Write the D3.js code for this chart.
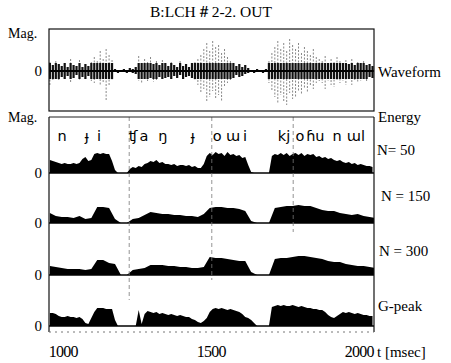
<!DOCTYPE html>
<html>
<head>
<meta charset="utf-8">
<script src="https://cdn.jsdelivr.net/npm/d3@7"></script>
<style>
  html, body { margin: 0; padding: 0; background: #fff; }
  svg { display: block; }
  .serif { font-family: "Liberation Serif", "DejaVu Serif", "Times New Roman", serif; }
  .ipa { font-family: "DejaVu Sans", "Noto Sans", sans-serif; }
</style>
</head>
<body>
<svg id="chart" width="451" height="363"></svg>
<script>
// time grid (msec)
const WAVE_START = 955, WAVE_STEP = 10;     // waveform, N=50, G-peak
const COARSE_START = 955, COARSE_STEP = 20; // N=150, N=300

// waveform peak extent above / below zero
const waveUp = [
  9, 6, 10, 7,
  5, 8, 4, 12, 6, 5, 11, 4, 7, 5,
  9, 14, 10, 20, 12, 22, 16, 11,
  2, 1, 1, 2, 1, 3, 2,
  4, 15,
  8, 12, 9, 14, 7, 10, 6, 11, 8,
  5, 9, 6, 4, 10, 5, 7, 4, 8, 9,
  12, 16, 22, 28, 20, 30, 24, 26, 18, 22, 14, 10,
  8, 5, 7, 4, 6, 3,
  1, 1, 2, 1, 1, 2,
  10, 18, 24, 30, 22, 28, 20, 32, 26, 22, 28, 18, 24, 20, 16, 22, 14, 12,
  10, 15, 8, 12, 9, 14, 10, 8, 11,
  7, 12, 6, 9, 8, 10, 6, 7, 5
];
const waveDown = [
  14, 9, 8, 10,
  6, 9, 5, 12, 7, 4, 10, 6, 8, 5,
  10, 12, 8, 15, 11, 30, 14, 9,
  1, 2, 1, 1, 2, 1, 2,
  3, 10,
  12, 8, 10, 7, 11, 9, 6, 8, 7,
  6, 8, 5, 7, 4, 8, 6, 5, 7, 9,
  14, 22, 18, 30, 26, 20, 28, 24, 30, 16, 12, 9,
  7, 4, 6, 5, 3, 2,
  1, 2, 1, 1, 2, 1,
  12, 20, 26, 32, 24, 30, 34, 22, 28, 26, 20, 24, 18, 22, 14, 18, 12, 10,
  12, 18, 10, 14, 16, 9, 12, 10, 14,
  8, 14, 9, 12, 10, 8, 11, 6, 7
];

// short-time energy
const energyN50 = [
  13, 12, 11, 10,
  9, 10, 9, 9, 10, 9, 10,
  14, 16, 12, 13,
  19, 20, 19, 20, 19, 19,
  12, 3,
  0, 0, 0, 0,
  4, 6,
  5, 7, 6, 9, 10,
  12, 11, 13, 10, 11, 9,
  9, 8, 9, 7, 8, 8, 7, 8, 6, 7, 5, 5,
  9,
  17, 20, 18, 21, 19, 20, 17, 21, 18, 19, 17, 18, 15, 16,
  8, 1,
  0, 0, 0, 0, 0, 0,
  17, 19, 18, 20, 18, 20, 17, 19, 20, 18, 20, 17, 19, 18, 19, 16, 17,
  15, 16, 14, 15, 13, 12, 13, 11, 10, 11,
  9, 10, 8, 9, 8, 7, 7, 6
];
const energyN150 = [
  10, 7, 6, 6, 5, 7, 4, 5, 16, 16, 15, 4, 0, 0, 4, 5, 8, 11, 10, 9,
  9, 8, 8, 7, 7, 6, 9, 15, 16, 16, 15, 15, 14, 12, 2, 0, 0, 0, 15, 16,
  17, 17, 18, 17, 17, 15, 13, 12, 12, 10, 9, 8, 9, 7, 6, 5
];
const energyN300 = [
  9, 8, 7, 6, 6, 6, 5, 6, 15, 15, 12, 11, 0, 0, 5, 6, 7, 10, 10, 10,
  9, 9, 8, 8, 7, 7, 8, 18, 17, 17, 16, 15, 14, 14, 3, 0, 0, 0, 16, 17,
  17, 18, 19, 19, 18, 17, 16, 14, 13, 13, 11, 10, 9, 9, 8, 7
];
const energyGpeak = [
  13, 13, 12, 10,
  9, 9, 10, 9, 9, 8, 9,
  7, 3, 2, 8, 14,
  18, 18, 18, 17, 17,
  17, 6,
  0, 0, 0, 0, 0, 0,
  0, 16, 2, 12, 15,
  14, 13, 14, 12, 13, 12, 11, 12, 11, 10, 11, 10, 9, 9,
  7, 6, 4, 3, 5, 8,
  14, 17,
  18, 17, 18, 17, 16, 17, 16, 15, 14, 12,
  9, 8, 6, 3, 0,
  0, 0, 0, 0,
  19,
  20, 21, 20, 21, 20, 20, 21, 20, 19, 20, 19, 18,
  18, 17, 17, 16, 16, 14,
  11, 9, 8, 10, 12,
  14, 13, 14, 13, 12, 13, 12, 11, 11, 10, 10
];

// phoneme transcription above N=50 (label, time msec)
const phonemes = [
  ['n', 996], ['ɟ', 1080], ['i', 1121], ['ʧ', 1236], ['a', 1273], ['ŋ', 1337],
  ['ɟ', 1438], ['o', 1520], ['ɯ', 1574], ['i', 1614], ['kj', 1746], ['o', 1800],
  ['ɦ', 1837], ['u', 1867], ['n', 1925], ['ɯ', 1982], ['l', 2013]
];
// segment boundaries (dashed verticals)
const boundaries = [1223, 1502, 1777];

const timeTicks = [1000, 1500, 2000];
const panelNames = ['N= 50', 'N = 150', 'N = 300', 'G-peak'];

const svg = d3.select('#chart');
const left = 49, right = 374;

const x = d3.scaleLinear().domain([952, 2050]).range([left, right]);

const defs = svg.append('defs');
defs.append('clipPath').attr('id', 'plot-clip')
  .append('rect').attr('x', left).attr('y', 0).attr('width', right - left).attr('height', 363);

function label(xp, yp, str, size, anchor) {
  return svg.append('text').attr('class', 'serif')
    .attr('x', xp).attr('y', yp).attr('text-anchor', anchor || 'start')
    .attr('font-size', size).text(str);
}

// Title
label(211, 17, 'B:LCH＃2-2. OUT', 15.5, 'middle');

// ---------- Waveform panel ----------
const wTop = 29, wBot = 111;
const yWave = d3.scaleLinear().domain([-40, 40]).range([111, 31]);
const coreAmp = 8;

const waveG = svg.append('g').attr('clip-path', 'url(#plot-clip)');
waveUp.forEach((u, i) => {
  const t = WAVE_START + i * WAVE_STEP;
  const dn = waveDown[i];
  // sparse dotted tails
  waveG.append('line')
    .attr('x1', x(t)).attr('x2', x(t))
    .attr('y1', yWave(u)).attr('y2', yWave(-dn))
    .attr('stroke', '#7a7a7a').attr('stroke-width', 0.9)
    .attr('stroke-dasharray', '2 1.5');
  // dense dark core
  waveG.append('line')
    .attr('x1', x(t)).attr('x2', x(t))
    .attr('y1', yWave(Math.min(u, coreAmp))).attr('y2', yWave(-Math.min(dn, coreAmp)))
    .attr('stroke', '#111').attr('stroke-width', 2.2);
});
waveG.append('line')
  .attr('x1', left).attr('x2', right).attr('y1', yWave(0)).attr('y2', yWave(0))
  .attr('stroke', '#000').attr('stroke-width', 1.8);

svg.append('rect')
  .attr('x', left).attr('y', wTop).attr('width', right - left).attr('height', wBot - wTop)
  .attr('fill', 'none').attr('stroke', '#111').attr('stroke-width', 1.2);

label(8, 38, 'Mag.', 14);
label(42, yWave(0) + 5, '0', 15, 'end');
label(378, 77, 'Waveform', 15);

// ---------- Energy panels ----------
const eTop = 117, eBot = 332;
const baselines = [173, 223, 275, 326];
const series = [
  { values: energyN50, start: WAVE_START, step: WAVE_STEP },
  { values: energyN150, start: COARSE_START, step: COARSE_STEP },
  { values: energyN300, start: COARSE_START, step: COARSE_STEP },
  { values: energyGpeak, start: WAVE_START, step: WAVE_STEP }
];
const labelY = [155, 201, 256, 311];
const labelX = [377, 381, 379, 378];

const energyG = svg.append('g').attr('clip-path', 'url(#plot-clip)');
series.forEach((s, k) => {
  const y = d3.scaleLinear().domain([0, 50]).range([baselines[k], baselines[k] - 50]);
  const area = d3.area()
    .x((d, i) => x(s.start + i * s.step))
    .y0(y(0)).y1(d => y(d));
  energyG.append('path').datum(s.values)
    .attr('d', area).attr('fill', '#000');

  energyG.append('line')
    .attr('x1', left).attr('x2', right).attr('y1', y(0)).attr('y2', y(0))
    .attr('stroke', '#000').attr('stroke-width', 1.3);

  label(42, y(0) + 5, '0', 15, 'end');
  label(labelX[k], labelY[k], panelNames[k], 15);
});

// segment boundaries
const bEnds = [300, 280, 232];
boundaries.forEach((t, i) => {
  svg.append('line')
    .attr('x1', x(t)).attr('x2', x(t)).attr('y1', eTop).attr('y2', bEnds[i])
    .attr('stroke', '#777').attr('stroke-width', 0.8).attr('stroke-dasharray', '4 3');
});

// frame: top, sides, dotted bottom
svg.append('line').attr('x1', left).attr('x2', right).attr('y1', eTop).attr('y2', eTop)
  .attr('stroke', '#222').attr('stroke-width', 1.2);
[left, right].forEach(xx => {
  svg.append('line').attr('x1', xx).attr('x2', xx).attr('y1', eTop).attr('y2', eBot)
    .attr('stroke', '#111').attr('stroke-width', 1.2);
});
svg.append('line').attr('x1', left).attr('x2', right).attr('y1', eBot).attr('y2', eBot)
  .attr('stroke', '#777').attr('stroke-width', 1).attr('stroke-dasharray', '2 4');

label(8, 122, 'Mag.', 14);
label(378, 122, 'Energy', 15);

// phoneme labels
svg.append('g').selectAll('text').data(phonemes).join('text')
  .attr('class', 'ipa')
  .attr('x', d => x(d[1])).attr('y', 141).attr('text-anchor', 'middle')
  .attr('font-size', 14.5)
  .text(d => d[0]);

// time axis labels
svg.append('g').selectAll('text').data(timeTicks).join('text')
  .attr('class', 'serif')
  .attr('x', d => x(d)).attr('y', 357).attr('text-anchor', 'middle')
  .attr('font-size', 16).attr('letter-spacing', '-0.8')
  .text(d => d);
label(377, 357, 't [msec]', 15);
</script>
</body>
</html>
